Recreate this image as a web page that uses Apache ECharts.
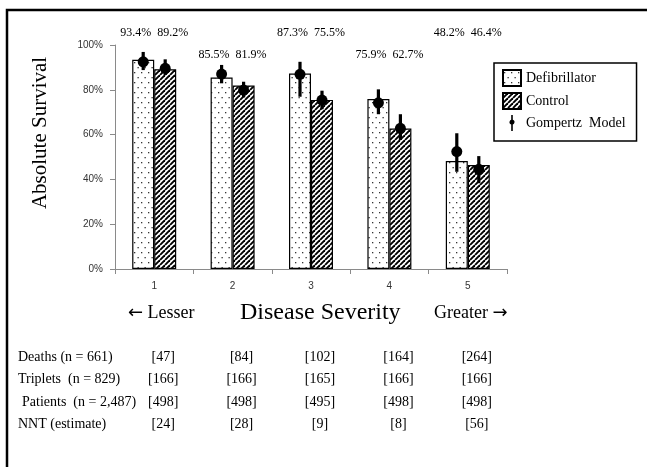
<!DOCTYPE html>
<html><head><meta charset="utf-8">
<script src="https://cdn.jsdelivr.net/npm/echarts@6/dist/echarts.min.js"></script>
<style>html,body{margin:0;padding:0;background:#fff;}#c{width:647px;height:467px;}</style>
</head><body><div id="c"></div>
<script>
// ---- data ----
var categories = ['1', '2', '3', '4', '5'];
var defibrillator = [93.4, 85.5, 87.3, 75.9, 48.2];
var control = [89.2, 81.9, 75.5, 62.7, 46.4];
// Gompertz model estimates: [value, low, high]
var gompertzDefib = [[92.5, 88.8, 96.9], [87.0, 82.9, 91.1], [86.9, 76.9, 92.5], [74.2, 69.1, 80.2], [52.4, 43.4, 60.6]];
var gompertzControl = [[89.6, 86.6, 93.6], [79.9, 76.6, 83.6], [75.4, 71.3, 79.6], [62.8, 57.6, 69.1], [44.5, 38.3, 50.4]];
var yTicks = [0, 20, 40, 60, 80, 100];
var tableRowLabels = ['Deaths (n = 661)', 'Triplets  (n = 829)', 'Patients  (n = 2,487)', 'NNT (estimate)'];
var deaths = [47, 84, 102, 164, 264];
var triplets = [166, 166, 165, 166, 166];
var patients = [498, 498, 495, 498, 498];
var nnt = [24, 28, 9, 8, 56];

var SERIF = '"Liberation Serif", "Times New Roman", "DejaVu Serif", serif';
var SANS = '"Liberation Sans", Arial, sans-serif';

// ---- patterns ----
function dotPattern() {
  var c = document.createElement('canvas'); c.width = 7; c.height = 10;
  var g = c.getContext('2d');
  g.fillStyle = '#fff'; g.fillRect(0, 0, 7, 10);
  g.fillStyle = '#333';
  g.fillRect(1, 2, 1.3, 1.3);
  g.fillRect(4.5, 7, 1.3, 1.3);
  return c;
}
function hatchPattern() {
  var s = 5;
  var c = document.createElement('canvas'); c.width = s; c.height = s;
  var g = c.getContext('2d');
  g.fillStyle = '#fff'; g.fillRect(0, 0, s, s);
  g.strokeStyle = '#000'; g.lineWidth = 1.9;
  [-s, 0, s].forEach(function (k) {
    g.beginPath(); g.moveTo(k, s); g.lineTo(k + s, 0); g.stroke();
  });
  return c;
}

var gompData = [];
gompertzDefib.forEach(function (d, i) { gompData.push([i, 0, d[0], d[1], d[2]]); });
gompertzControl.forEach(function (d, i) { gompData.push([i, 1, d[0], d[1], d[2]]); });

var BAR_W = 22;

var chart = echarts.init(document.getElementById('c'), null, { renderer: 'canvas' });
var option = {
  animation: false,
  backgroundColor: '#fff',
  grid: { left: 115, right: 140, top: 45, bottom: 198 },
  legend: {
    orient: 'vertical', left: 494, top: 63,
    borderColor: '#000', borderWidth: 1.5, borderRadius: 0,
    padding: [6, 11, 10, 8], itemGap: 5, itemWidth: 18, itemHeight: 16,
    textStyle: { fontFamily: SERIF, fontSize: 14, color: '#000' },
    data: [
      { name: 'Defibrillator', icon: 'rect' },
      { name: 'Control', icon: 'rect' },
      { name: 'Gompertz  Model', icon: 'path://M4,0 L6,0 L6,6 A3.2,3.2 0 0 1 6,12 L6,20 L4,20 L4,12 A3.2,3.2 0 0 1 4,6 Z' }
    ]
  },
  xAxis: {
    type: 'category', data: categories,
    axisLine: { lineStyle: { color: '#8a8a8a', width: 1 } },
    axisTick: { show: true, length: 5, lineStyle: { color: '#8a8a8a' } },
    axisLabel: { margin: 12, fontFamily: SANS, fontSize: 10, color: '#333' }
  },
  yAxis: {
    type: 'value', min: 0, max: 100, interval: 20,
    axisLine: { show: true, lineStyle: { color: '#8a8a8a', width: 1 } },
    axisTick: { show: true, length: 5, lineStyle: { color: '#8a8a8a' } },
    splitLine: { show: false },
    axisLabel: { margin: 12, fontFamily: SANS, fontSize: 10, color: '#333', formatter: '{value}%' }
  },
  series: [
    {
      name: 'Defibrillator', type: 'bar', data: defibrillator, barWidth: BAR_W, barGap: '0%',
      itemStyle: { color: { image: dotPattern(), repeat: 'repeat' }, borderColor: '#000', borderWidth: 1.2 }
    },
    {
      name: 'Control', type: 'bar', data: control, barWidth: BAR_W, barGap: '0%',
      itemStyle: { color: { image: hatchPattern(), repeat: 'repeat' }, borderColor: '#000', borderWidth: 1.2 }
    },
    {
      name: 'Gompertz  Model', type: 'custom', data: gompData,
      itemStyle: { color: '#000' },
      encode: { x: 0, y: 2 },
      z: 10,
      renderItem: function (params, api) {
        var cat = api.value(0), which = api.value(1);
        var dx = (which === 0 ? -1 : 1) * BAR_W / 2;
        var p = api.coord([cat, api.value(2)]);
        var lo = api.coord([cat, api.value(3)]);
        var hi = api.coord([cat, api.value(4)]);
        var x = p[0] + dx;
        return {
          type: 'group',
          children: [
            { type: 'line', shape: { x1: x, y1: lo[1], x2: x, y2: hi[1] }, style: { stroke: '#000', lineWidth: 3.2 } },
            { type: 'circle', shape: { cx: x, cy: p[1], r: 5.5 }, style: { fill: '#000' } }
          ]
        };
      }
    }
  ]
};
chart.setOption(option);

// ---- text annotations placed from the axis scale ----
var arrowRich = {
  a: { fontFamily: '"DejaVu Sans", sans-serif', fontSize: 18, fill: '#000' },
  t: { fontFamily: SERIF, fontSize: 18, fill: '#000' }
};
var g = [];
g.push({ type: 'rect', shape: { x: 7, y: 10, width: 700, height: 500 }, style: { fill: null, stroke: '#000', lineWidth: 2.5 }, silent: true });
g.push({ type: 'text', x: 40, y: 133, rotation: Math.PI / 2,
  style: { text: 'Absolute Survival', font: '21px ' + SERIF, fill: '#000', textAlign: 'center', textVerticalAlign: 'middle' } });
g.push({ type: 'text', x: 128, y: 313, style: { text: '{a|\u2190}{t| Lesser}', rich: arrowRich, textAlign: 'left', textVerticalAlign: 'middle' } });
g.push({ type: 'text', x: 240, y: 313, style: { text: 'Disease Severity', font: '24px ' + SERIF, fill: '#000', textAlign: 'left', textVerticalAlign: 'middle' } });
g.push({ type: 'text', x: 434, y: 313, style: { text: '{t|Greater }{a|\u2192}', rich: arrowRich, textAlign: 'left', textVerticalAlign: 'middle' } });

categories.forEach(function (c, i) {
  var cx = chart.convertToPixel({ xAxisIndex: 0 }, c);
  var ty = (i % 2 === 0) ? 33 : 55;
  g.push({ type: 'text', x: cx, y: ty,
    style: { text: defibrillator[i].toFixed(1) + '%  ' + control[i].toFixed(1) + '%', font: '12px ' + SERIF, fill: '#000', textAlign: 'center', textVerticalAlign: 'middle' } });
});

var rows = [deaths, triplets, patients, nnt];
var rowY = [357, 379, 402, 424];
rows.forEach(function (arr, r) {
  g.push({ type: 'text', x: r === 2 ? 22 : 18, y: rowY[r],
    style: { text: tableRowLabels[r], font: '14px ' + SERIF, fill: '#000', textAlign: 'left', textVerticalAlign: 'middle' } });
  arr.forEach(function (v, i) {
    var cx = chart.convertToPixel({ xAxisIndex: 0 }, categories[i]) + 9;
    g.push({ type: 'text', x: cx, y: rowY[r],
      style: { text: '[' + v + ']', font: '14px ' + SERIF, fill: '#000', textAlign: 'center', textVerticalAlign: 'middle' } });
  });
});
chart.setOption({ graphic: g });
</script>
</body></html>
